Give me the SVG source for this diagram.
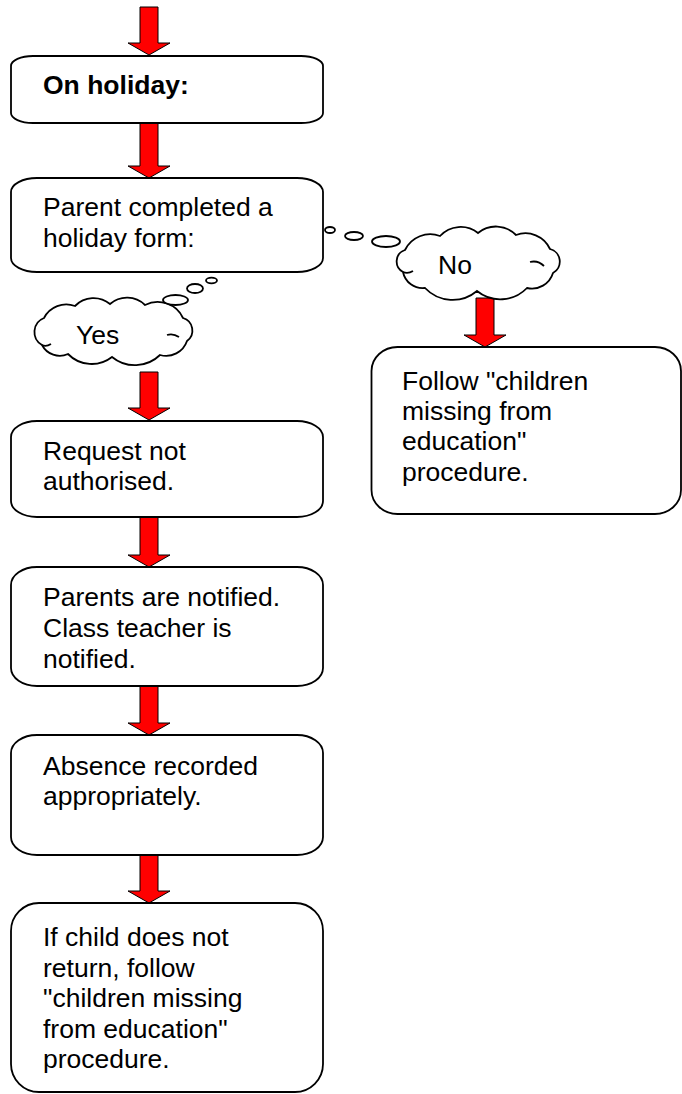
<svg xmlns="http://www.w3.org/2000/svg" width="682" height="1094" viewBox="0 0 682 1094">
<style>
.box{fill:#fff;stroke:#000;stroke-width:1.8}
.arr{fill:#f00;stroke:#000;stroke-width:1}
.cloud{fill:#fff;stroke:#000;stroke-width:1.8}
.inner{fill:none;stroke:#000;stroke-width:1.8}
.t{font-family:"Liberation Sans",Arial,sans-serif;font-size:26.5px;fill:#000}
.b{font-weight:bold}
</style>
<rect width="682" height="1094" fill="#fff"/>
<g id="connectors">
<polygon class="arr" points="140,7 158,7 158,43 170,43 149,55 128,43 140,43"/>
<polygon class="arr" points="140,123 158,123 158,166 170,166 149,178 128,166 140,166"/>
<polygon class="arr" points="140,372 158,372 158,408 170,408 149,420 128,408 140,408"/>
<polygon class="arr" points="140,517 158,517 158,555 170,555 149,567 128,555 140,555"/>
<polygon class="arr" points="140,686 158,686 158,723 170,723 149,735 128,723 140,723"/>
<polygon class="arr" points="140,855 158,855 158,891 170,891 149,903 128,891 140,891"/>
<polygon class="arr" points="476,298 494,298 494,335 506,335 485,347 464,335 476,335"/>
</g>
<g id="n1">
<rect class="box" x="11" y="56" width="312" height="67" rx="22" ry="10"/>
<text class="t b" x="43" y="94">On holiday:</text>
</g>
<g id="n2">
<rect class="box" x="11" y="178" width="312" height="94" rx="26" ry="14"/>
<text class="t" x="43" y="216">Parent completed a</text>
<text class="t" x="43" y="246.5">holiday form:</text>
</g>
<g id="cloudNo">
<ellipse class="cloud" cx="330" cy="230" rx="5" ry="3"/>
<ellipse class="cloud" cx="354" cy="236" rx="9" ry="4"/>
<ellipse class="cloud" cx="386" cy="241.5" rx="14" ry="5.5"/>
<path class="cloud" d="M403 272 A12 12 0 0 1 405 250 A28 28 0 0 1 440 236 A28 28 0 0 1 478 233 A28 28 0 0 1 516 235 A27 27 0 0 1 550 249 A13 13 0 0 1 553 273 A22 22 0 0 1 527 288 A37 37 0 0 1 477 291 A38 38 0 0 1 425 288 A20 20 0 0 1 403 272 Z"/>
<path class="inner" d="M403 272 Q408 274 413 271"/>
<path class="inner" d="M530 262 Q538 260 544 266"/>
<text class="t" x="438" y="274">No</text>
</g>
<g id="cloudYes">
<ellipse class="cloud" cx="211.5" cy="280.5" rx="5.5" ry="2.8"/>
<ellipse class="cloud" cx="195" cy="288.5" rx="8" ry="4.5"/>
<path class="cloud" d="M42 345 A15 15 0 0 1 44 318 A25 25 0 0 1 75 306 A26 26 0 0 1 110 304 A26 26 0 0 1 145 305 A28 28 0 0 1 183 318 A13 13 0 0 1 187 341 A22 22 0 0 1 160 355 A36 36 0 0 1 112 357 A33 33 0 0 1 68 354 A20 20 0 0 1 42 345 Z"/>
<ellipse class="cloud" cx="175.5" cy="300" rx="12.5" ry="5"/>
<path class="inner" d="M42 345 Q46 347 51 344"/>
<path class="inner" d="M167 335 Q173 333 179 337"/>
<text class="t" x="76" y="344">Yes</text>
</g>
<g id="nFollow">
<rect class="box" x="371.5" y="347" width="309.5" height="167" rx="26" ry="24"/>
<text class="t" x="402" y="389.5">Follow "children</text>
<text class="t" x="402" y="420">missing from</text>
<text class="t" x="402" y="450">education"</text>
<text class="t" x="402" y="480.5">procedure.</text>
</g>
<g id="n3">
<rect class="box" x="11" y="421" width="312" height="96" rx="26" ry="16"/>
<text class="t" x="43" y="460">Request not</text>
<text class="t" x="43" y="490">authorised.</text>
</g>
<g id="n4">
<rect class="box" x="11" y="567" width="312" height="119" rx="26" ry="18"/>
<text class="t" x="43" y="606">Parents are notified.</text>
<text class="t" x="43" y="637">Class teacher is</text>
<text class="t" x="43" y="668">notified.</text>
</g>
<g id="n5">
<rect class="box" x="11" y="735" width="312" height="120" rx="26" ry="18"/>
<text class="t" x="43" y="774.5">Absence recorded</text>
<text class="t" x="43" y="805">appropriately.</text>
</g>
<g id="n6">
<rect class="box" x="11" y="903" width="312" height="189" rx="28" ry="28"/>
<text class="t" x="43" y="946">If child does not</text>
<text class="t" x="43" y="976.5">return, follow</text>
<text class="t" x="43" y="1007">"children missing</text>
<text class="t" x="43" y="1037.5">from education"</text>
<text class="t" x="43" y="1068">procedure.</text>
</g>
</svg>
